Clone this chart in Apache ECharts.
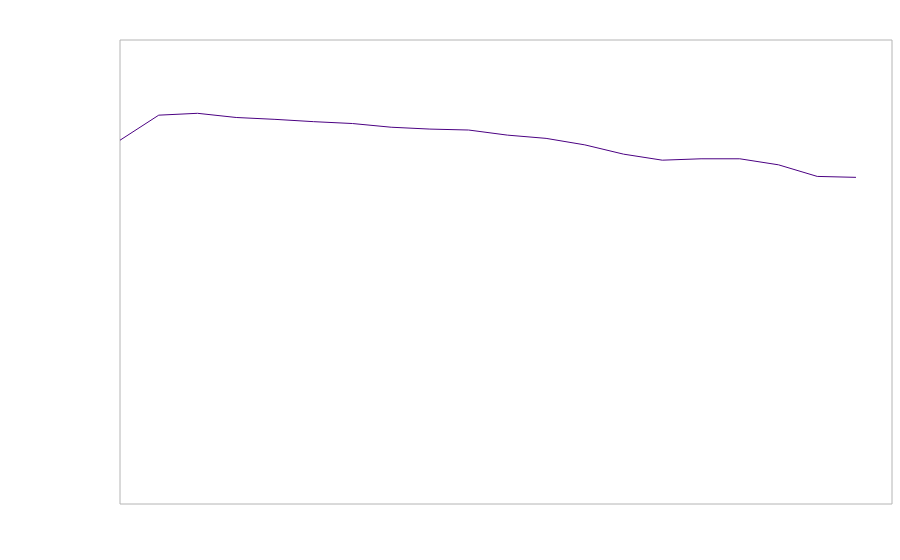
<!DOCTYPE html>
<html>
<head>
<meta charset="utf-8">
<script src="https://cdn.jsdelivr.net/npm/echarts@6/dist/echarts.min.js"></script>
<style>
    html, body { margin: 0; padding: 0; background: #fff; }
    #chart { width: 900px; height: 560px; }
</style>
</head>
<body>
<div id="chart"></div>
<script>
    // x positions (index) and the values
    const steps = [0, 1, 2, 3, 4, 5, 6, 7, 8, 9, 10, 11, 12, 13, 14, 15, 16, 17, 18, 19]
    const values = [78.4, 83.8, 84.2, 83.3, 82.9, 82.4, 82.0, 81.2, 80.8, 80.6,
                    79.5, 78.8, 77.4, 75.4, 74.1, 74.4, 74.4, 73.1, 70.6, 70.4]

    const chart = echarts.init(document.getElementById('chart'))

    const option = {
        animation: false,
        grid: {
            show: true,
            left: 120,
            right: 8,
            top: 40,
            bottom: 56,
            borderColor: '#b4b4b4',
            borderWidth: 1
        },
        xAxis: {
            type: 'value',
            min: 0,
            max: 19.93,
            show: false
        },
        yAxis: {
            type: 'value',
            min: 0,
            max: 100,
            show: false
        },
        series: [
            {
                type: 'line',
                data: steps.map((s, i) => [s, values[i]]),
                showSymbol: false,
                lineStyle: { color: '#4b0082', width: 1 }
            }
        ]
    }
    chart.setOption(option)
</script>
</body>
</html>
